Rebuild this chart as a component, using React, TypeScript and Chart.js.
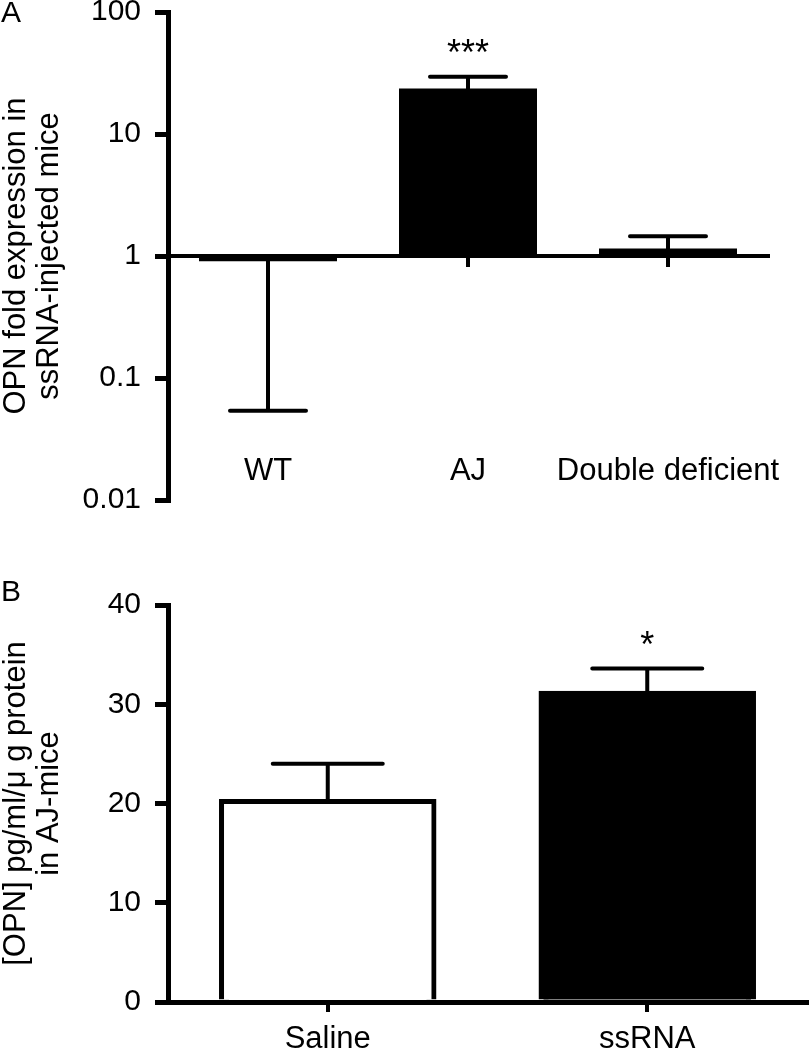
import React, { useEffect, useRef } from "react";
import { Chart, registerables } from "chart.js";

Chart.register(...registerables);

// ---------- Panel A data ----------
const groupsA = ["WT", "AJ", "Double deficient"];
const meanA = [0.95, 22.5, 1.1];
const errEndA = [0.054, 29.5, 1.45];
const sigA = ["", "***", ""];
const ticksA = [0.01, 0.1, 1, 10, 100];
const titleA = ["OPN fold expression in", "ssRNA-injected mice"];

// ---------- Panel B data ----------
const groupsB = ["Saline", "ssRNA"];
const meanB = [20.2, 31.1];
const errEndB = [24.0, 33.6];
const sigB = ["", "*"];
const ticksB = [0, 10, 20, 30, 40];
const titleB = ["[OPN] pg/ml/\u03bc g protein", "in AJ-mice"];

const FONT = "'Liberation Sans', Arial, Helvetica, sans-serif";
const BLACK = "#000";

const errorBarPlugin = {
  id: "errorBars",
  afterDatasetsDraw(chart: any, _args: any, opts: any) {
    const meta = chart.getDatasetMeta(0);
    const y = chart.scales.y;
    const ctx = chart.ctx;
    ctx.save();
    ctx.strokeStyle = BLACK;
    ctx.lineWidth = opts.lineWidth;
    ctx.lineCap = "round";
    meta.data.forEach((bar: any, i: number) => {
      const x = bar.x;
      const y0 = y.getPixelForValue(opts.means[i]);
      const y1 = y.getPixelForValue(opts.ends[i]);
      ctx.beginPath();
      ctx.moveTo(x, y0);
      ctx.lineTo(x, y1);
      ctx.moveTo(x - opts.capHalf, y1);
      ctx.lineTo(x + opts.capHalf, y1);
      ctx.stroke();
      if (opts.sig[i]) {
        ctx.fillStyle = BLACK;
        ctx.font = `${opts.sigSize}px ${FONT}`;
        ctx.textAlign = "center";
        ctx.textBaseline = "alphabetic";
        ctx.fillText(opts.sig[i], x, y1 - opts.sigGap);
      }
    });
    ctx.restore();
  },
};

function makeA(canvas: HTMLCanvasElement) {
  return new Chart(canvas, {
    type: "bar",
    data: {
      labels: groupsA,
      datasets: [
        {
          data: meanA,
          base: 1,
          backgroundColor: BLACK,
          borderWidth: 0,
          inflateAmount: 2.5,
          barPercentage: 0.665,
          categoryPercentage: 1,
        } as any,
      ],
    },
    options: {
      responsive: false,
      animation: false,
      layout: { padding: { top: 12, bottom: 25, left: 0, right: 42 } },
      plugins: {
        legend: { display: false },
        tooltip: { enabled: false },
        errorBars: {
          means: meanA,
          ends: errEndA,
          sig: sigA,
          capHalf: 38,
          lineWidth: 4,
          sigSize: 36,
          sigGap: 12,
        },
      } as any,
      scales: {
        x: {
          position: { y: 1 } as any,
          grid: {
            display: true,
            drawOnChartArea: false,
            drawTicks: true,
            tickLength: 9,
            offset: false,
            color: BLACK,
            lineWidth: 4,
          },
          border: { display: true, color: BLACK, width: 4 },
          ticks: {
            color: BLACK,
            font: { family: FONT, size: 31 },
            padding: 188,
            maxRotation: 0,
            autoSkip: false,
          },
          afterFit: (s: any) => {
            s.paddingLeft = 0;
            s.paddingRight = 0;
            s.paddingTop = 0;
            s.paddingBottom = 0;
          },
        } as any,
        y: {
          type: "logarithmic",
          min: 0.01,
          max: 100,
          afterBuildTicks: (s: any) => {
            s.ticks = ticksA.map((v) => ({ value: v }));
          },
          ticks: {
            color: BLACK,
            font: { family: FONT, size: 30 },
            padding: 14,
            callback: (v: any) => String(v),
          },
          grid: {
            drawOnChartArea: false,
            tickLength: 13,
            color: BLACK,
            lineWidth: 5,
          },
          border: { display: true, color: BLACK, width: 5 },
          title: {
            display: true,
            text: titleA,
            color: BLACK,
            font: { family: FONT, size: 31, lineHeight: 1.07 },
            padding: { top: 0, bottom: 0 },
          },
          afterFit: (s: any) => {
            s.width = 168;
            s.paddingTop = 0;
            s.paddingBottom = 0;
          },
        } as any,
      },
    },
    plugins: [errorBarPlugin as any],
  });
}

function makeB(canvas: HTMLCanvasElement) {
  return new Chart(canvas, {
    type: "bar",
    data: {
      labels: groupsB,
      datasets: [
        {
          data: meanB,
          backgroundColor: ["#fff", BLACK],
          borderColor: BLACK,
          borderWidth: 5,
          inflateAmount: 2.5,
          barPercentage: 0.665,
          categoryPercentage: 1,
        } as any,
      ],
    },
    options: {
      responsive: false,
      animation: false,
      layout: { padding: { top: 80, bottom: 0, left: 0, right: 3 } },
      plugins: {
        legend: { display: false },
        tooltip: { enabled: false },
        errorBars: {
          means: meanB,
          ends: errEndB,
          sig: sigB,
          capHalf: 55,
          lineWidth: 4,
          sigSize: 36,
          sigGap: 12,
        },
      } as any,
      scales: {
        x: {
          position: "bottom",
          grid: {
            display: true,
            drawOnChartArea: false,
            drawTicks: true,
            tickLength: 10,
            offset: false,
            color: BLACK,
            lineWidth: 4,
          },
          border: { display: true, color: BLACK, width: 5 },
          ticks: {
            color: BLACK,
            font: { family: FONT, size: 31 },
            padding: 9,
            maxRotation: 0,
            autoSkip: false,
          },
          afterFit: (s: any) => {
            s.height = 48;
            s.paddingLeft = 0;
            s.paddingRight = 0;
          },
        } as any,
        y: {
          type: "linear",
          min: 0,
          max: 40,
          afterBuildTicks: (s: any) => {
            s.ticks = ticksB.map((v) => ({ value: v }));
          },
          ticks: {
            color: BLACK,
            font: { family: FONT, size: 30 },
            padding: 14,
            callback: (v: any) => String(v),
          },
          grid: {
            drawOnChartArea: false,
            tickLength: 13,
            color: BLACK,
            lineWidth: 5,
          },
          border: { display: true, color: BLACK, width: 5 },
          title: {
            display: true,
            text: titleB,
            color: BLACK,
            font: { family: FONT, size: 31, lineHeight: 1.07 },
            padding: { top: 0, bottom: 0 },
          },
          afterFit: (s: any) => {
            s.width = 168;
            s.paddingTop = 0;
            s.paddingBottom = 0;
          },
        } as any,
      },
    },
    plugins: [errorBarPlugin as any],
  });
}

export default function App() {
  const refA = useRef<HTMLCanvasElement | null>(null);
  const refB = useRef<HTMLCanvasElement | null>(null);

  useEffect(() => {
    const a = refA.current ? makeA(refA.current) : null;
    const b = refB.current ? makeB(refB.current) : null;
    return () => {
      a?.destroy();
      b?.destroy();
    };
  }, []);

  const letter: React.CSSProperties = {
    position: "absolute",
    left: 1,
    fontFamily: FONT,
    fontSize: 30,
    lineHeight: "30px",
    color: BLACK,
  };

  return (
    <div
      style={{
        position: "absolute",
        left: 0,
        top: 0,
        width: 810,
        height: 1050,
        background: "#fff",
        overflow: "hidden",
      }}
    >
      <canvas
        ref={refA}
        width={810}
        height={525}
        style={{ position: "absolute", left: 0, top: 0 }}
      />
      <canvas
        ref={refB}
        width={810}
        height={525}
        style={{ position: "absolute", left: 0, top: 525 }}
      />
      <div style={{ ...letter, top: -3 }}>A</div>
      <div style={{ ...letter, top: 576 }}>B</div>
    </div>
  );
}
